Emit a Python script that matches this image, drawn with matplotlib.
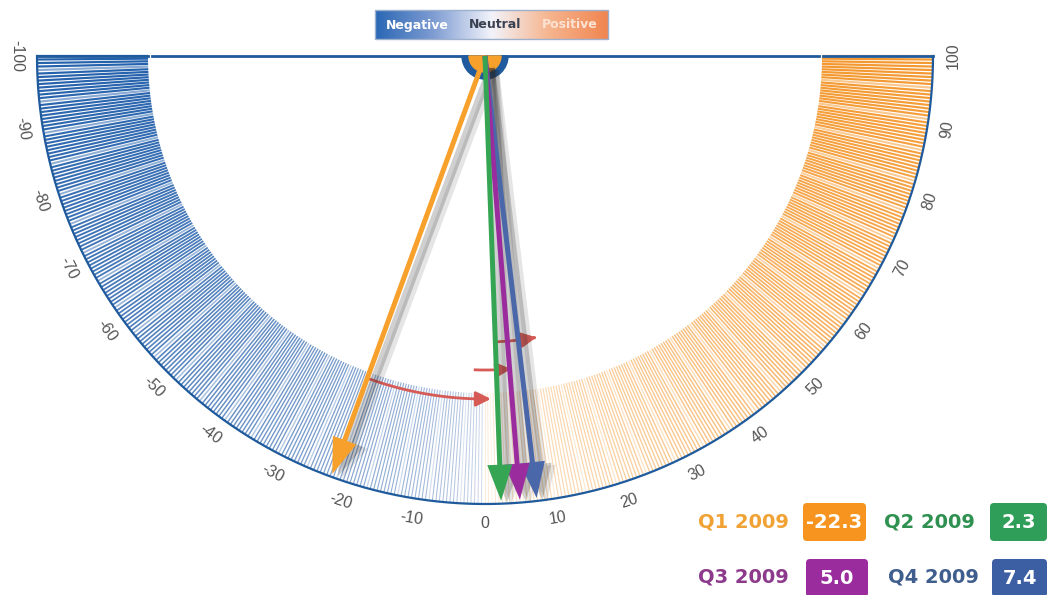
import numpy as np
import matplotlib.pyplot as plt
from matplotlib.collections import LineCollection
from matplotlib.patches import FancyArrow, Wedge, FancyBboxPatch, Rectangle
from matplotlib.colors import LinearSegmentedColormap, to_rgb


quarters     = ["Q1 2009", "Q2 2009", "Q3 2009", "Q4 2009"]
scores       = [-22.3, 2.3, 5.0, 7.4]
arrow_colors = ["#F7A02C", "#35A554", "#9B2C9E", "#4A67AA"]
label_colors = ["#F0A235", "#2E9150", "#8E3A8C", "#3F5E8E"]
box_colors   = ["#F7941F", "#2F9E58", "#9B2C9E", "#3B5FA2"]
tick_values  = np.arange(-100, 101, 10)
legend_names = ["Negative", "Neutral", "Positive"]
# red "shift" arrows between quarters: (from score, to score)
shifts       = [(-22.3, 1.6), (-2.0, 5.3), (2.9, 11.5)]


W, H = 1048, 595
cx, cy = 485, 56          # gauge centre [px]
r_in, r_out, r_lab = 337, 448, 468


def pos(v, r):
    phi = np.radians(0.9 * np.asarray(v))
    return cx + r * np.sin(phi), cy + r * np.cos(phi)


fig = plt.figure(figsize=(W / 100, H / 100), dpi=100)
ax = fig.add_axes([0, 0, 1, 1])
ax.set_xlim(0, W)
ax.set_ylim(H, 0)
ax.axis("off")

# hatched band
blue_dark, blue_light = np.array(to_rgb("#2461AC")), np.array(to_rgb("#DDE2F0"))
orng_dark, orng_light = np.array(to_rgb("#F4982F")), np.array(to_rgb("#FDEDDB"))
vals = np.arange(-100, 100.01, 0.5)
segs, cols, lws = [], [], []
for i, v in enumerate(vals):
    t = abs(v) / 100.0
    if v < 0:
        c = blue_light + (blue_dark - blue_light) * t ** 0.5
    else:
        c = orng_light + (orng_dark - orng_light) * t ** 0.65
    if i % 9 == 4:
        c = c + (1 - c) * 0.45
    x0, y0 = pos(v, r_in)
    x1, y1 = pos(v, r_out)
    segs.append([(x0, y0), (x1, y1)])
    cols.append(c)
    lws.append(0.7 + 0.9 * t)
ax.add_collection(LineCollection(segs, colors=cols, linewidths=lws, zorder=1))

# outer rim and top line
xs, ys = pos(np.linspace(-100, 100, 400), r_out)
ax.plot(xs, ys, color="#1E5A9C", lw=1.6, zorder=2)
for a, b in [(cx - r_out, cx - r_in), (cx - r_in + 4, cx + r_in - 3), (cx + r_in + 1, cx + r_out)]:
    ax.plot([a, b], [cy, cy], color="#1E5A9C", lw=2, zorder=2)

# tick labels
for v in tick_values:
    x, y = pos(v, r_lab)
    ax.text(x, y, str(v), rotation=0.9 * v, ha="center", va="center",
            fontsize=11.5, family="Liberation Sans", color="#555555", zorder=3)

# centre hub
ax.add_patch(Wedge((cx, cy), 23, 0, 180, color="#1F5B9E", zorder=4))
ax.add_patch(Wedge((cx, cy), 16, 0, 180, color="#F7A02C", zorder=4))

# red shift arrows
for (a, b), r in zip(shifts, [343, 314, 286]):
    vv = np.linspace(a, b, 60)
    px, py = pos(vv, r)
    ax.plot(px[:-4], py[:-4], color="#D65A55", lw=2, zorder=5)
    ax.annotate("", xy=(px[-1], py[-1]), xytext=(px[-8], py[-8]),
                arrowprops=dict(arrowstyle="-|>,head_length=0.9,head_width=0.45",
                                color="#D65A55", lw=2), zorder=5)

# quarter arrows with shadows
order = [0, 3, 2, 1]
for k in order:
    tx, ty = pos(scores[k], 445)
    for off, al in [((10, 4), 0.12), ((6, 2), 0.22)]:
        ax.add_patch(FancyArrow(cx + off[0], cy + 10 + off[1], tx - cx, ty - cy - 10,
                                width=8, head_width=27, head_length=36,
                                length_includes_head=True, color="#2A2A2A",
                                alpha=al, lw=0, zorder=6))
    ax.add_patch(FancyArrow(cx, cy, tx - cx, ty - cy, width=5, head_width=25,
                            head_length=36, length_includes_head=True,
                            color=arrow_colors[k], lw=0, zorder=7))

# legend gradient bar
cmap = LinearSegmentedColormap.from_list("sent", ["#2A67B4", "#7E9CD2", "#F2F3FA", "#F6B48E", "#F08550"])
ax.imshow(np.linspace(0, 1, 256)[None, :], cmap=cmap, extent=(375, 608, 39, 10),
          aspect="auto", zorder=3)
ax.add_patch(Rectangle((375, 10), 233, 29, fill=False, ec="#9DB0CC", lw=1, zorder=4))
for name, x, c in zip(legend_names, [417, 495, 570], ["white", "#3A4150", "#FCE2D2"]):
    ax.text(x, 25, name, ha="center", va="center", fontsize=9, fontweight="bold",
            color=c, zorder=5)
ax.set_xlim(0, W)
ax.set_ylim(H, 0)

# quarter value labels
text_xy = [(698, 522), (884, 522), (698, 577), (888, 577)]
box_xy  = [(803, 503, 63), (990, 503, 57), (806, 559, 62), (992, 559, 55)]
for k in range(4):
    ax.text(text_xy[k][0], text_xy[k][1], quarters[k], ha="left", va="center",
            fontsize=14, fontweight="bold", color=label_colors[k])
    bx, by, bw = box_xy[k]
    ax.add_patch(FancyBboxPatch((bx, by), bw, 38, boxstyle="round,pad=0,rounding_size=4",
                                fc=box_colors[k], ec="none"))
    ax.text(bx + bw / 2, by + 19, "%.1f" % scores[k], ha="center", va="center",
            fontsize=14, fontweight="bold", color="white")

fig.savefig("out.png", dpi=100)
